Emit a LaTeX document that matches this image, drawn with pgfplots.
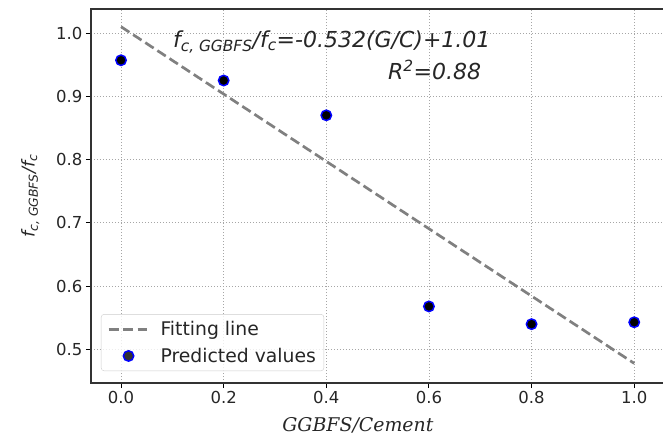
\documentclass[border=0pt]{standalone}
\usepackage{pgfplots}
\pgfplotsset{compat=1.18}
\usepackage{fontspec}
\setmainfont{DejaVu Sans}
\newfontfamily\serifit{DejaVu Serif}
\pgfplotsset{
  mydotleg/.style={legend image code/.code={\path[draw=none] (0bp,0bp) -- (50bp,0bp);\draw[mark repeat=2,mark phase=2,##1] plot coordinates {(0bp,0bp) (20bp,0bp) (39bp,0bp)};}},
  mylineleg/.style={legend image code/.code={\path[draw=none] (0bp,0bp) -- (50bp,0bp);\draw[##1] (0bp,0bp) -- (38bp,0bp);}},
}
\begin{document}
\begin{tikzpicture}
\useasboundingbox (-91bp,-60bp) rectangle (572bp,383bp);
\begin{axis}[
  at={(0,0)}, anchor=south west,
  scale only axis, width=574bp, height=374bp,
  xmin=-0.0585, xmax=1.06, ymin=0.447, ymax=1.038,
  xtick={0,0.2,0.4,0.6,0.8,1.0},
  xticklabels={0.0,0.2,0.4,0.6,0.8,1.0},
  ytick={0.5,0.6,0.7,0.8,0.9,1.0},
  yticklabels={0.5,0.6,0.7,0.8,0.9,1.0},
  tick label style={font=\fontsize{16.5bp}{19bp}\selectfont, text=black!85},
  tick align=outside, major tick length=5bp,
  tick style={black, line width=1bp},
  tick pos=left,
  grid=major,
  major grid style={black!35, line width=0.8bp, dash pattern=on 1.5bp off 1.5bp},
  axis line style={black!80, line width=1.2bp},
  xlabel={\serifit\itshape GGBFS/Cement},
  xlabel style={at={(axis description cs:0.465,-0.112)}, anchor=center, font=\fontsize{18.9bp}{22bp}\selectfont, text=black!85},
  ylabel={\itshape f\textsubscript{c, GGBFS}/f\textsubscript{c}},
  ylabel style={at={(axis description cs:-0.106,0.5)}, anchor=center, font=\fontsize{17.7bp}{20bp}\selectfont, text=black!85},
  legend style={at={(rel axis cs:0.0174,0.032)}, anchor=south west,
    draw=black!20, rounded corners=3bp, fill=white, fill opacity=0.8, text opacity=1,
    font=\fontsize{18.8bp}{22bp}\selectfont, text=black!85,
    inner xsep=6bp, inner ysep=5bp, row sep=7bp},
  legend cell align=left,
]
\addplot[mylineleg, color=black!50, line width=2.7bp, dash pattern=on 10bp off 4.5bp]
  coordinates {(0,1.01) (1.0,0.478)};
\addlegendentry{Fitting line}
\addplot[mydotleg, only marks, mark=*, mark size=5.2bp, mark options={fill=black, draw=blue, line width=1.5bp}]
  coordinates {(0,0.957) (0.2,0.925) (0.4,0.870) (0.6,0.568) (0.8,0.540) (1.0,0.543)};
\addlegendentry{Predicted values}
\node[anchor=west, font=\fontsize{22bp}{25bp}\selectfont\itshape, text=black!85, inner sep=0pt] at (axis cs:0.101,0.986) {f\textsubscript{c, GGBFS}/f\textsubscript{c}=-0.532(G/C)+1.01};
\node[anchor=west, font=\fontsize{22bp}{25bp}\selectfont\itshape, text=black!85, inner sep=0pt] at (axis cs:0.52,0.9415) {R\textsuperscript{2}=0.88};
\end{axis}
\end{tikzpicture}
\end{document}
